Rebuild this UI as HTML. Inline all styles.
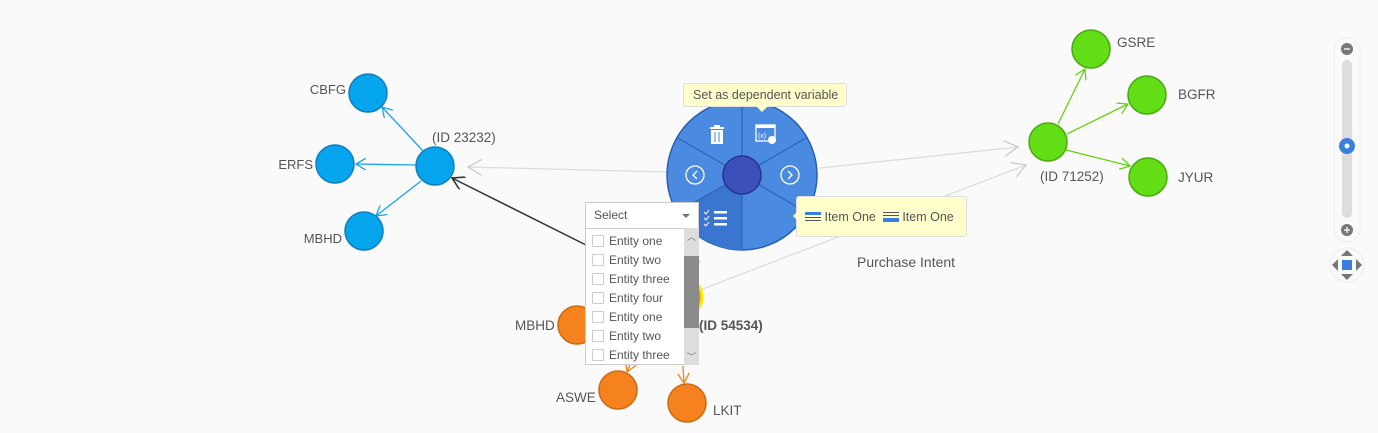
<!DOCTYPE html>
<html><head><meta charset="utf-8"><style>
html,body{margin:0;padding:0;background:#fafafa;width:1378px;height:433px;overflow:hidden;font-family:"Liberation Sans",sans-serif}
svg{position:absolute;left:0;top:0}
.t{font-family:"Liberation Sans",sans-serif;font-size:13.5px;fill:#555}
.e{text-anchor:end;font-size:13px}
.dd{position:absolute;left:585px;top:202px;width:114px;height:163px;background:#fff;border:1px solid #ccc;box-sizing:border-box;font-family:"Liberation Sans",sans-serif;font-size:12px;color:#555}
.dd .h{height:25px;border-bottom:1px solid #ccc;line-height:24px;padding-left:8px;position:relative}
.dd .h:after{content:"";position:absolute;right:8px;top:11px;border:4px solid transparent;border-top:4px solid #777}
.dd .r{height:19px;line-height:19px;padding-left:6px;white-space:nowrap}
.dd .r i{display:inline-block;width:10px;height:10px;border:1px solid #ccc;vertical-align:-2px;margin-right:5px;border-radius:1px}
.sb{position:absolute;left:98px;top:25px;width:15px;height:137px;background:#ddd}
.sb .th{position:absolute;top:28px;left:0;width:15px;height:72px;background:#8a8a8a}
.tip{position:absolute;background:#ffffcc;border:1px solid #ddd;border-radius:3px;font-family:"Liberation Sans",sans-serif;font-size:12.5px;color:#555;box-sizing:border-box;white-space:nowrap}
</style></head><body>
<svg width="1378" height="433" viewBox="0 0 1378 433">
<defs>
<marker id="ab" markerWidth="12" markerHeight="12" refX="10" refY="6" orient="auto" markerUnits="userSpaceOnUse"><path d="M0,0 L10,6 L0,12" fill="none" stroke="#1aa3e8" stroke-width="1.3"/></marker>
<marker id="ag" markerWidth="12" markerHeight="12" refX="10" refY="6" orient="auto" markerUnits="userSpaceOnUse"><path d="M0,0 L10,6 L0,12" fill="none" stroke="#62d40f" stroke-width="1.3"/></marker>
<marker id="ao" markerWidth="12" markerHeight="12" refX="10" refY="6" orient="auto" markerUnits="userSpaceOnUse"><path d="M0,0 L10,6 L0,12" fill="none" stroke="#f0841c" stroke-width="1.3"/></marker>
<marker id="ay" markerWidth="16" markerHeight="16" refX="14" refY="8" orient="auto" markerUnits="userSpaceOnUse"><path d="M0,0 L14,8 L0,16" fill="none" stroke="#ccc" stroke-width="1.3"/></marker>
<marker id="ak" markerWidth="14" markerHeight="14" refX="12" refY="7" orient="auto" markerUnits="userSpaceOnUse"><path d="M0,0 L12,7 L0,14" fill="none" stroke="#333" stroke-width="1.6"/></marker>
</defs>
<line x1="820" y1="168" x2="1018" y2="147" stroke="#ddd" stroke-width="1.3" marker-end="url(#ay)"/>
<line x1="700" y1="290" x2="1026" y2="165" stroke="#ddd" stroke-width="1.3" marker-end="url(#ay)"/>
<line x1="667" y1="172" x2="468" y2="167" stroke="#ddd" stroke-width="1.3" marker-end="url(#ay)"/>
<line x1="700" y1="260" x2="695" y2="275" stroke="#ddd" stroke-width="1.3"/>
<line x1="586" y1="245" x2="452" y2="178" stroke="#333" stroke-width="1.5" marker-end="url(#ak)"/>
<line x1="424" y1="152" x2="382" y2="107" stroke="#1aa3e8" stroke-width="1.3" marker-end="url(#ab)"/>
<line x1="416" y1="165" x2="356" y2="164" stroke="#1aa3e8" stroke-width="1.3" marker-end="url(#ab)"/>
<line x1="421" y1="181" x2="376" y2="216" stroke="#1aa3e8" stroke-width="1.3" marker-end="url(#ab)"/>
<g fill="#05a5ee" stroke="#0f7fbf" stroke-width="1.5">
<circle cx="435" cy="166" r="19"/><circle cx="368" cy="93" r="19"/><circle cx="335" cy="164" r="19"/><circle cx="364" cy="231" r="19"/></g>
<text class="t" x="432" y="142">(ID 23232)</text>
<text class="t e" x="346" y="94">CBFG</text>
<text class="t e" x="313" y="169">ERFS</text>
<text class="t e" x="342" y="243">MBHD</text>
<line x1="1058" y1="124" x2="1085" y2="69" stroke="#62d40f" stroke-width="1.3" marker-end="url(#ag)"/>
<line x1="1067" y1="134" x2="1128" y2="104" stroke="#62d40f" stroke-width="1.3" marker-end="url(#ag)"/>
<line x1="1066" y1="150" x2="1130" y2="166" stroke="#62d40f" stroke-width="1.3" marker-end="url(#ag)"/>
<g fill="#62dd16" stroke="#4aaa10" stroke-width="1.5">
<circle cx="1048" cy="142" r="19"/><circle cx="1091" cy="49" r="19"/><circle cx="1147" cy="95" r="19"/><circle cx="1148" cy="177" r="19"/></g>
<text class="t" x="1117" y="47">GSRE</text>
<text class="t" x="1178" y="99">BGFR</text>
<text class="t" x="1178" y="182">JYUR</text>
<text class="t" x="1040" y="181">(ID 71252)</text>
<text class="t" x="857" y="267" style="font-size:14px">Purchase Intent</text>
<line x1="632" y1="360" x2="627" y2="372" stroke="#f0841c" stroke-width="1.3" marker-end="url(#ao)"/>
<line x1="683" y1="366" x2="684" y2="383" stroke="#f0841c" stroke-width="1.3" marker-end="url(#ao)"/>
<circle cx="682" cy="297" r="20" fill="#f0841c" stroke="#ffe400" stroke-width="3"/>
<g fill="#f5821f" stroke="#cc6a10" stroke-width="1.5">
<circle cx="577" cy="325" r="19"/><circle cx="618" cy="390" r="19"/><circle cx="687" cy="403" r="19"/></g>
<text class="t" x="515" y="330">MBHD</text>
<text class="t" x="556" y="402">ASWE</text>
<text class="t" x="713" y="415">LKIT</text>
<text class="t" x="699" y="330" style="font-weight:bold">(ID 54534)</text>
<g transform="translate(742,175)">
<circle r="75" fill="#4a8ae0" stroke="#2a5fb0" stroke-width="1.5"/>
<path d="M0,0 L0,75 A75,75 0 0 1 -64.95,37.5 Z" fill="#3a76cf"/>
<g stroke="#2e64b8" stroke-width="1.2">
<line x1="0" y1="0" x2="0" y2="-75"/><line x1="0" y1="0" x2="0" y2="75"/>
<line x1="0" y1="0" x2="64.95" y2="-37.5"/><line x1="0" y1="0" x2="-64.95" y2="-37.5"/>
<line x1="0" y1="0" x2="64.95" y2="37.5"/><line x1="0" y1="0" x2="-64.95" y2="37.5"/></g>
<circle r="19" fill="#3d4fb8" stroke="#27348a" stroke-width="1.5"/>
<circle cx="-47" cy="0" r="9" fill="none" stroke="#fff" stroke-width="1.3"/>
<path d="M-45,-4 L-49,0 L-45,4" fill="none" stroke="#fff" stroke-width="1.3"/>
<circle cx="48" cy="0" r="9" fill="none" stroke="#fff" stroke-width="1.3"/>
<path d="M46,-4 L50,0 L46,4" fill="none" stroke="#fff" stroke-width="1.3"/>
<g fill="#fff"><rect x="-32" y="-48" width="14" height="2"/><rect x="-28" y="-50" width="6" height="2"/><rect x="-31" y="-45" width="12" height="14"/></g>
<g stroke="#4a8ae0" stroke-width="1"><line x1="-27" y1="-43" x2="-27" y2="-33"/><line x1="-23" y1="-43" x2="-23" y2="-33"/></g>
<rect x="14" y="-50" width="19" height="16" fill="none" stroke="#fff" stroke-width="1.3"/><rect x="14" y="-50" width="19" height="3" fill="#fff"/>
<text x="16" y="-37" font-size="7" fill="#fff" font-family="Liberation Sans">(x)</text>
<circle cx="30" cy="-35" r="4" fill="#fff"/>
<g fill="#fff"><rect x="-28" y="36" width="13" height="2.5"/><rect x="-28" y="42" width="13" height="2.5"/><rect x="-28" y="48" width="13" height="2.5"/></g>
<path d="M-38,37 l2,2 l3,-4 M-38,43 l2,2 l3,-4 M-38,49 l2,2 l3,-4" stroke="#fff" fill="none" stroke-width="1"/>
</g>
<rect x="1334" y="38" width="26" height="204" rx="13" fill="#fafafa" stroke="#eee"/>
<rect x="1342" y="60" width="10" height="158" rx="5" fill="#ddd"/>
<circle cx="1347" cy="49" r="6" fill="#777"/><line x1="1344" y1="49" x2="1350" y2="49" stroke="#fff" stroke-width="1.3"/>
<circle cx="1347" cy="230" r="6" fill="#777"/><path d="M1344,230 h6 M1347,227 v6" stroke="#fff" stroke-width="1.3"/>
<circle cx="1347" cy="146" r="8" fill="#3a7fe0"/><circle cx="1347" cy="146" r="2.5" fill="#fff"/>
<circle cx="1347" cy="265" r="17" fill="#fafafa" stroke="#eee"/>
<g fill="#777"><path d="M1347,250 l6,6 h-12z"/><path d="M1347,280 l6,-6 h-12z"/><path d="M1332,265 l6,-6 v12z"/><path d="M1362,265 l-6,-6 v12z"/></g>
<rect x="1342" y="260" width="10" height="10" fill="#3a7fe0"/>
</svg>
<div class="tip" style="left:683px;top:83px;width:164px;height:24px;line-height:22px;padding-left:9px">Set as dependent variable</div>
<div style="position:absolute;left:756px;top:106px;border:6px solid transparent;border-top:6px solid #ffffcc;"></div>
<div class="tip" style="left:796px;top:196px;width:171px;height:41px;line-height:40px;padding-left:8px">
<span style="display:inline-block;width:16px;height:10px;vertical-align:-1px;background:linear-gradient(#3a7fe0 0 3px,transparent 3px 5px,#555 5px 6px,transparent 6px 8px,#555 8px 9px,transparent 9px)"></span> Item One &nbsp;<span style="display:inline-block;width:16px;height:10px;vertical-align:-1px;background:linear-gradient(#555 0 1px,transparent 1px 3px,#555 3px 4px,transparent 4px 6px,#3a7fe0 6px)"></span> Item One</div>
<div style="position:absolute;left:787px;top:210px;border:6px solid transparent;border-right:6px solid #ffffcc;"></div>
<div class="dd"><div class="h">Select</div>
<div style="padding-top:3px">
<div class="r"><i></i>Entity one</div><div class="r"><i></i>Entity two</div><div class="r"><i></i>Entity three</div><div class="r"><i></i>Entity four</div><div class="r"><i></i>Entity one</div><div class="r"><i></i>Entity two</div><div class="r"><i></i>Entity three</div></div>
<div class="sb"><div class="th"></div><div style="position:absolute;top:2px;left:3px;font-size:9px;color:#777">︿</div><div style="position:absolute;bottom:2px;left:3px;font-size:9px;color:#777">﹀</div></div>
</div>
</body></html>
